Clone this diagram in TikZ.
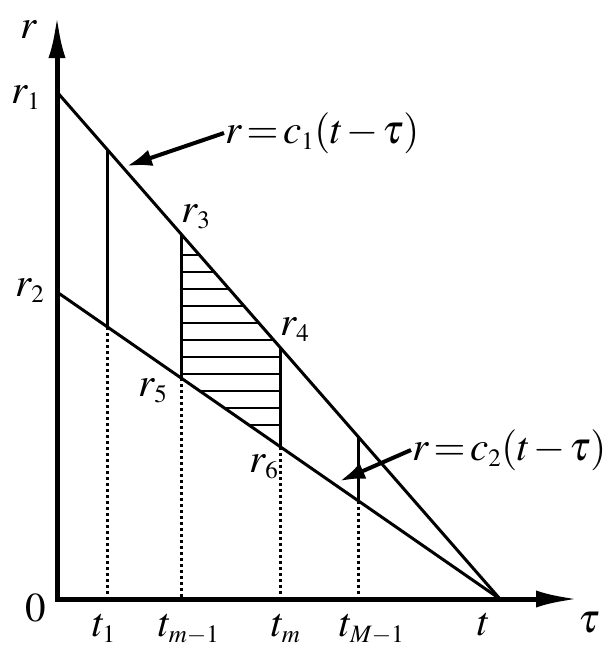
\documentclass[tikz,border=0pt]{standalone}
\usepackage{mathptmx}
\usetikzlibrary{arrows.meta}
\usetikzlibrary{calc}
\DeclareMathSizes{41}{41}{25}{19}
\newcommand\tightmath{\thickmuskip=2mu\relax\medmuskip=1.5mu\relax}

\begin{document}
\begin{tikzpicture}[x=1pt,y=-1pt,
  every node/.style={font=\fontsize{41}{48}\selectfont\tightmath,inner sep=1pt},
  axis/.style={line width=5pt,line join=miter,{Latex[length=42pt,width=17pt]}-{Latex[length=42pt,width=17pt]}},
  edge/.style={line width=3pt},
  dotline/.style={line width=3pt,dash pattern=on 3pt off 3pt},
  hatch/.style={line width=2.5pt},
  pointer/.style={line width=4pt,-{Latex[length=25pt,width=17pt]}}]
\useasboundingbox (0,0) rectangle (614,662);
% axes
\coordinate (O) at (57,599);
\coordinate (yend) at (57,16);
\coordinate (xend) at (578,599);
\coordinate (R1) at (57,92);
\coordinate (R2) at (57,292);
\coordinate (T) at (500,599);
\draw[axis] (yend) -- (O) -- (xend);
% the two lines
\draw[edge] (R1) -- (T);
\draw[edge] (R2) -- (T);
% time steps
\foreach \f/\n in {0.1151/1,0.2799/2,0.5034/3,0.6795/4} {
  \coordinate (up\n) at ($(R1)!\f!(T)$);
  \coordinate (lo\n) at ($(R2)!\f!(T)$);
  \coordinate (ax\n) at (lo\n |- O);
  \draw[edge] (up\n) -- (lo\n);
  \draw[dotline] (lo\n) -- (ax\n);
}
% hatched strip
\begin{scope}
\clip (up2) -- (up3) -- (lo3) -- (lo2) -- cycle;
\foreach \y in {255,272,...,425}
  \draw[hatch] (lo2 |- 0,\y) -- (lo3 |- 0,\y);
\end{scope}
% labels
\node (lr) at (29,30) {$r$};
\node (lr1) at (26,98) {$r_1$};
\node (lr2) at (30,291) {$r_2$};
\node (l0) at (36,608) {$0$};
\node (lr3) at (196,217) {$r_3$};
\node (lr4) at (295,330) {$r_4$};
\node (lr5) at (153,391) {$r_5$};
\node (lr6) at (264,467) {$r_6$};
\node[anchor=base] (lt1) at (104,636) {$t_1$};
\node[anchor=base] (lt2) at (189,636) {$t_{m-1}$};
\node[anchor=base] (lt3) at (286,636) {$t_m$};
\node[anchor=base] (lt4) at (372,636) {$t_{M-1}$};
\node[anchor=base] (lt) at (484,635) {$t$};
\node[anchor=base] (ltau) at (589,632) {$\tau$};
% pointers
\node[anchor=west] (lc1) at (224,133) {$r=c_1(t-\tau)$};
\node[anchor=west] (lc2) at (411,450) {$r=c_2(t-\tau)$};
\coordinate (a1) at (127,166);
\coordinate (a2) at (340,481);
\draw[pointer] (lc1.west) -- (a1);
\draw[pointer] (lc2.west) -- (a2);
\end{tikzpicture}
\end{document}
